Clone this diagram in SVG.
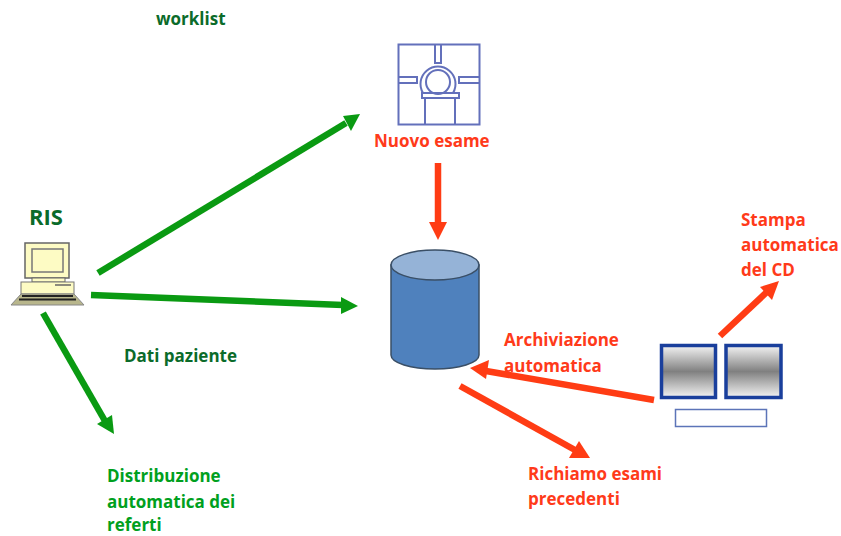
<svg xmlns="http://www.w3.org/2000/svg" width="841" height="536" viewBox="0 0 841 536">
<style>
text{font-family:"Open Sans","Liberation Sans",sans-serif;font-weight:700;font-size:17px}
.g{fill:#00a01e}.dg{fill:#0b6b2a}.r{fill:#ff3a1a}
.gl{stroke:#0a9a12;stroke-width:6.500;fill:none}
.rl{stroke:#ff3c14;stroke-width:6.500;fill:none}
.ct{fill:none;stroke:#6370bb;stroke-width:2}
</style>
<defs>
<linearGradient id="gr" x1="0" y1="0" x2="0" y2="1"><stop offset="0" stop-color="#f4f4f4"/><stop offset="0.5" stop-color="#808080"/><stop offset="1" stop-color="#f4f4f4"/></linearGradient>
</defs>
<rect width="841" height="536" fill="#fff"/>
<g id="connectors">
<path class="gl" d="M98 273L346 123"/><path fill="#0a9a12" d="M360 114L343 116L351 131Z"/>
<path class="gl" d="M91 295L343 305"/><path fill="#0a9a12" d="M358 306L341 297L341 314Z"/>
<path class="gl" d="M43 313L105 421"/><path fill="#0a9a12" d="M114 434L112 415L97 424Z"/>
<path class="rl" d="M438 163V225"/><path fill="#ff3c14" d="M438 240L447 222H429Z"/>
<path class="rl" d="M654 400L486 371"/><path fill="#ff3c14" d="M470 368L489 360L486 379Z"/>
<path class="rl" d="M460 386L575 450"/><path fill="#ff3c14" d="M590 458L579 441L569 458Z"/>
<path class="rl" d="M720 336L768 291"/><path fill="#ff3c14" d="M779 281L760 287L772 300Z"/>
</g>
<g id="worklist"><text x="156" y="25" class="dg">worklist</text></g>
<g id="scanner">
<rect x="398.500" y="44.500" width="81" height="80" class="ct"/>
<path class="ct" d="M435 44V63H441V44M399 77H417V83H399M479 77H459V83H479M425 124V98H455V124"/>
<rect x="422" y="93" width="37" height="5" class="ct"/>
<path class="ct" d="M423 93A17.500 17.500 0 1 1 453 93"/>
<circle cx="438" cy="82" r="12" class="ct"/>
<text x="374" y="147" class="r">Nuovo esame</text>
</g>
<g id="ris">
<text x="29" y="225" style="font-size:22px" class="dg">RIS</text>
<rect x="25" y="243" width="44" height="35" fill="#fdfbc4" stroke="#666" stroke-width="1.500"/>
<rect x="32" y="249" width="31" height="23" fill="#fdfbc4" stroke="#777" stroke-width="1.500"/>
<rect x="32" y="278" width="33" height="4" fill="#fdfbc4" stroke="#666"/>
<rect x="21" y="282" width="53" height="12" fill="#fdfbc4" stroke="#777"/>
<path d="M55 285H71" stroke="#666" stroke-width="1.500"/>
<path d="M21 294H74L84 305H11Z" fill="#b8b68c" stroke="#888"/>
<path d="M22 296H73M19 299.500H76" stroke="#222" stroke-width="2"/>
</g>
<g id="dati"><text x="124" y="362" class="dg">Dati paziente</text></g>
<g id="distribuzione">
<text x="107" y="482" class="g">Distribuzione</text>
<text x="107" y="508" class="g">automatica dei</text>
<text x="107" y="531" class="g">referti</text>
</g>
<g id="database">
<path d="M391 265V355C391 363 411 369 435 369S479 363 479 355V265Z" fill="#4f81bd" stroke="#3a4f66" stroke-width="1.500"/>
<ellipse cx="435" cy="265" rx="44" ry="15" fill="#95b3d7" stroke="#3a4f66" stroke-width="1.500"/>
</g>
<g id="stampa">
<text x="741" y="226" class="r">Stampa</text>
<text x="741" y="251" class="r">automatica</text>
<text x="741" y="276" class="r">del CD</text>
</g>
<g id="archiviazione">
<text x="504" y="346" class="r">Archiviazione</text>
<text x="504" y="372" class="r">automatica</text>
</g>
<g id="richiamo">
<text x="528" y="480" class="r">Richiamo esami</text>
<text x="528" y="505" class="r">precedenti</text>
</g>
<g id="workstation">
<rect x="661.500" y="345.500" width="54" height="52" fill="url(#gr)" stroke="#1a3f9c" stroke-width="3.500"/>
<rect x="726" y="345.500" width="55" height="52" fill="url(#gr)" stroke="#1a3f9c" stroke-width="3.500"/>
<rect x="675.500" y="409.500" width="91" height="17" fill="#fff" stroke="#5c74b8" stroke-width="1.500"/>
</g>
</svg>
